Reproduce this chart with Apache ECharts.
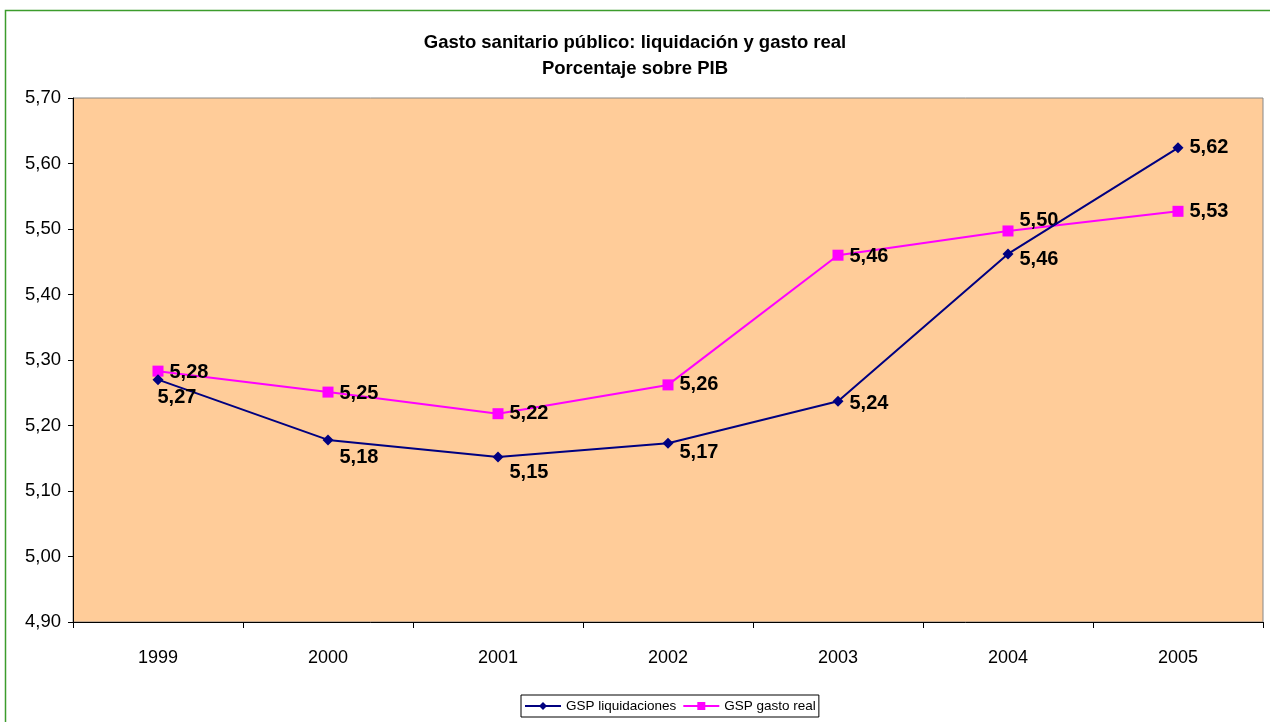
<!DOCTYPE html>
<html>
<head>
<meta charset="utf-8">
<title>Gasto sanitario público</title>
<script src="https://cdn.jsdelivr.net/npm/echarts@6/dist/echarts.min.js"></script>
<style>
  html, body { margin: 0; padding: 0; background: #fff; }
  #chart { width: 1270px; height: 722px; }
</style>
</head>
<body>
<div id="chart"></div>
<script>
// data
var years = ["1999", "2000", "2001", "2002", "2003", "2004", "2005"];
var liquidaciones = [5.27, 5.178, 5.152, 5.173, 5.237, 5.462, 5.624];
var gastoReal = [5.283, 5.251, 5.218, 5.262, 5.460, 5.497, 5.527];
// nudge of each value label [dx, dy] (px)
var liqLabelOffset = [[-12, 18], [0, 18], [0, 16], [0, 9], [0, 2], [0, 6], [0, 0]];
var realLabelOffset = [[0, 1], [0, 1], [0, 0], [0, 0], [0, 1], [0, -10], [0, 0]];

var FONT = "'Liberation Sans Narrow', 'Arial Narrow', 'Liberation Sans', Arial, sans-serif";

function fmt(v) {
  return v.toFixed(2).replace(".", ",");
}

function withLabels(values, offsets) {
  return values.map(function (v, i) {
    return { value: v, label: { offset: offsets[i] } };
  });
}

var chart = echarts.init(document.getElementById("chart"));

chart.setOption({
  animation: false,
  textStyle: { fontFamily: FONT },
  title: {
    text: "Gasto sanitario público: liquidación y gasto real\nPorcentaje sobre PIB",
    left: "center",
    top: 25,
    textStyle: {
      fontFamily: FONT,
      fontSize: 18.5,
      fontWeight: "bold",
      color: "#000",
      lineHeight: 26
    }
  },
  graphic: [
    {
      type: "rect",
      shape: { x: 5.5, y: 10.5, width: 1300, height: 800 },
      style: { fill: "none", stroke: "#3c9c2c", lineWidth: 1.5 },
      silent: true
    }
  ],
  legend: {
    bottom: 5,
    left: 521,
    itemWidth: 36,
    itemHeight: 10,
    itemGap: 6,
    padding: [4, 3],
    borderColor: "#000",
    borderWidth: 1,
    backgroundColor: "#fff",
    textStyle: { fontFamily: FONT, fontSize: 13.5, color: "#000" },
    data: ["GSP liquidaciones", "GSP gasto real"]
  },
  grid: {
    left: 73,
    right: 7,
    top: 98,
    bottom: 100,
    show: true,
    backgroundColor: "#FFCC99",
    borderColor: "#888",
    borderWidth: 1
  },
  xAxis: {
    type: "category",
    data: years,
    boundaryGap: true,
    axisLine: { lineStyle: { color: "#000", width: 1 } },
    axisTick: { show: true, length: 6, lineStyle: { color: "#000" } },
    axisLabel: {
      fontFamily: FONT,
      fontSize: 18,
      color: "#000",
      margin: 27
    },
    splitLine: { show: false }
  },
  yAxis: {
    type: "value",
    min: 4.9,
    max: 5.7,
    interval: 0.1,
    axisLine: { show: true, lineStyle: { color: "#000", width: 1 } },
    axisTick: { show: true, length: 5, lineStyle: { color: "#000" } },
    axisLabel: {
      fontFamily: FONT,
      fontSize: 18.5,
      color: "#000",
      margin: 12,
      formatter: function (v) { return fmt(v); }
    },
    splitLine: { show: false }
  },
  series: [
    {
      name: "GSP liquidaciones",
      type: "line",
      data: withLabels(liquidaciones, liqLabelOffset),
      symbol: "diamond",
      symbolSize: 11,
      lineStyle: { color: "#000080", width: 2 },
      itemStyle: { color: "#000080" },
      label: {
        show: true,
        position: "right",
        distance: 6,
        fontFamily: FONT,
        fontSize: 20,
        fontWeight: "bold",
        color: "#000",
        formatter: function (p) { return fmt(p.value); }
      },
      z: 3
    },
    {
      name: "GSP gasto real",
      type: "line",
      data: withLabels(gastoReal, realLabelOffset),
      symbol: "rect",
      symbolSize: 11,
      lineStyle: { color: "#FF00FF", width: 2 },
      itemStyle: { color: "#FF00FF" },
      label: {
        show: true,
        position: "right",
        distance: 6,
        fontFamily: FONT,
        fontSize: 20,
        fontWeight: "bold",
        color: "#000",
        formatter: function (p) { return fmt(p.value); }
      },
      z: 2
    }
  ]
});
</script>
</body>
</html>
